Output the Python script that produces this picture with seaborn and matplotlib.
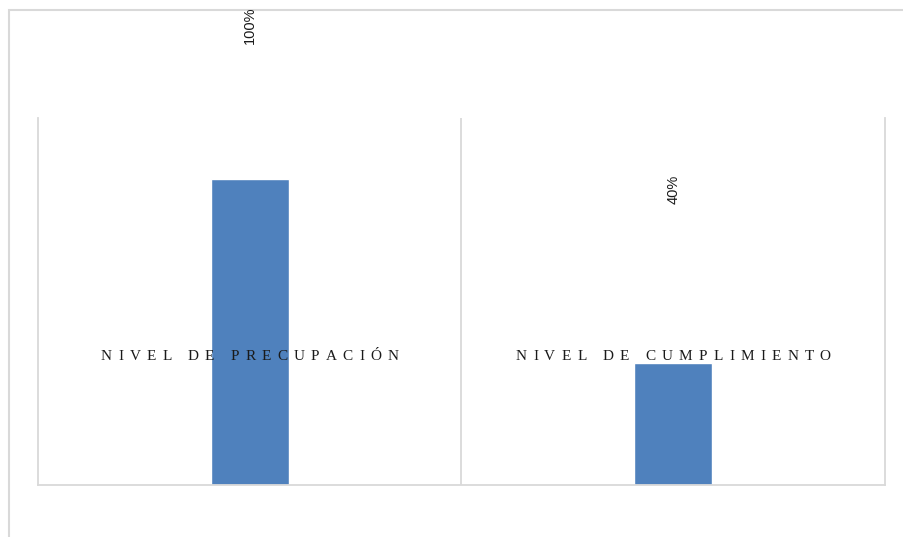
import matplotlib
matplotlib.use("Agg")
import matplotlib.pyplot as plt
import seaborn as sns
import pandas as pd
from matplotlib.patches import Rectangle
from matplotlib.font_manager import FontProperties

# Chart data
categories = ["NIVEL DE PRECUPACIÓN", "NIVEL DE CUMPLIMIENTO"]
values = [1.00, 0.40]

# Pixel distance of each value label above its bar
label_pad_px = [135, 159]

BAR_COLOR = "#4f81bd"
LINE_COLOR = "#d9d9d9"
TEXT_COLOR = "#1a1a1a"

sns.set_theme(style="white")
plt.rcParams["font.family"] = ["Liberation Sans", "DejaVu Sans"]

df = pd.DataFrame({"categoria": categories, "valor": values})

fig = plt.figure(figsize=(9.04, 5.37), dpi=100)
ax = fig.add_axes([38 / 904, 52 / 537, 847 / 904, 367 / 537])

sns.barplot(data=df, x="categoria", y="valor", color=BAR_COLOR,
            saturation=1, width=0.184, ax=ax)

ax.set_xlim(-0.5, len(categories) - 0.5)
ax.set_ylim(0, 1.2)
ax.set_xticks([])
ax.set_yticks([])
ax.set_xlabel("")
ax.set_ylabel("")

for side in ["left", "right", "bottom"]:
    ax.spines[side].set_visible(True)
    ax.spines[side].set_color(LINE_COLOR)
    ax.spines[side].set_linewidth(1.3)
ax.spines["top"].set_visible(False)

# Separators between categories
for i in range(len(categories) - 1):
    ax.axvline(i + 0.5, color=LINE_COLOR, linewidth=1.3, zorder=0)

# Category names drawn inside the plot area with wide letter spacing
name_prop = FontProperties(family=["Liberation Serif", "DejaVu Serif"], size=11)
renderer = fig.canvas.get_renderer()
tracking_px = 6.2
space_px = 0.25 * 11 * fig.dpi / 72


def char_width(ch):
    if ch == " ":
        return space_px
    w, _, _ = renderer.get_text_width_height_descent(ch, name_prop, ismath=False)
    return w


for i, name in enumerate(categories):
    widths = [char_width(c) for c in name]
    total = sum(widths) + tracking_px * (len(name) - 1)
    x = -total / 2
    for ch, w in zip(name, widths):
        if ch != " ":
            ax.annotate(ch, xy=(i, 0.3406), xycoords=ax.get_xaxis_transform(),
                        xytext=(x, 0), textcoords="offset pixels",
                        ha="left", va="baseline", fontproperties=name_prop,
                        color=TEXT_COLOR, zorder=5, annotation_clip=False)
        x += w + tracking_px

# Value labels, rotated
for i, v in enumerate(values):
    ax.annotate(f"{v:.0%}", xy=(i, v), xytext=(0, label_pad_px[i]),
                textcoords="offset pixels", rotation=90,
                ha="center", va="bottom", fontsize=10.5, color=TEXT_COLOR,
                annotation_clip=False)

# Chart frame
fig.patches.append(Rectangle((9 / 904, -0.1), 1.2, (537 - 10) / 537 + 0.1,
                             transform=fig.transFigure, fill=False,
                             edgecolor=LINE_COLOR, linewidth=1.5, zorder=-1))

fig.savefig("out.png", dpi=100)
